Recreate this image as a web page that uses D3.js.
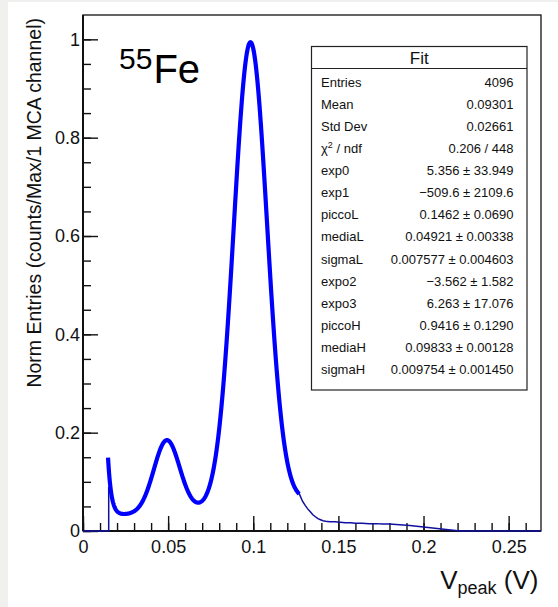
<!DOCTYPE html>
<html>
<head>
<meta charset="utf-8">
<script src="https://cdn.jsdelivr.net/npm/d3@7"></script>
<style>
  html, body { margin: 0; padding: 0; background: #ffffff; }
  svg { display: block; font-family: "Liberation Sans", Arial, Helvetica, sans-serif; }
</style>
</head>
<body>
<svg id="chart" width="558" height="607"></svg>
<script>
// ---- Data -------------------------------------------------------------
const xTicks = [0, 0.05, 0.1, 0.15, 0.2, 0.25];
const xTickLabels = ["0", "0.05", "0.1", "0.15", "0.2", "0.25"];
const yTicks = [0, 0.2, 0.4, 0.6, 0.8, 1];
const yTickLabels = ["0", "0.2", "0.4", "0.6", "0.8", "1"];

// Stats header entries
const statNames = ["Entries", "Mean", "Std Dev"];
const statValues = ["4096", "0.09301", "0.02661"];
const chi2 = 0.206;
const ndf = 448;

// Fit parameters: exp(exp0+exp1*x) + piccoL*gaus(mediaL,sigmaL)
//               + exp(expo2+expo3*x) + piccoH*gaus(mediaH,sigmaH)
const paramNames  = ["exp0", "exp1", "piccoL", "mediaL", "sigmaL", "expo2", "expo3", "piccoH", "mediaH", "sigmaH"];
const paramValues = [5.356, -509.6, 0.1462, 0.04921, 0.007577, -3.562, 6.263, 0.9416, 0.09833, 0.009754];
const paramErrors = [33.949, 2109.6, 0.0690, 0.00338, 0.004603, 1.582, 17.076, 0.1290, 0.00128, 0.001450];
const fitRange = [0.0147, 0.127];

// Normalized histogram outside the fitted range (V, counts/max)
const histX = [0, 0.0151, 0.0151, null,
  0.1262, 0.1275, 0.1290, 0.1305, 0.1320, 0.1335, 0.1350, 0.1365, 0.1380, 0.1395,
  0.1410, 0.1425, 0.1450, 0.1480, 0.1510, 0.1540, 0.1570, 0.1600, 0.1640, 0.1680,
  0.1720, 0.1760, 0.1800, 0.1840, 0.1880, 0.1920, 0.1960, 0.2000, 0.2040, 0.2080,
  0.2120, 0.2160, 0.2190, 0.2205, 0.2690];
const histY = [0, 0, 0.09, null,
  0.083, 0.072, 0.060, 0.052, 0.045, 0.039, 0.033, 0.029, 0.025, 0.023,
  0.021, 0.020, 0.019, 0.019, 0.018, 0.017, 0.017, 0.016, 0.016, 0.015,
  0.015, 0.014, 0.014, 0.013, 0.012, 0.011, 0.0095, 0.008, 0.0065, 0.005,
  0.0035, 0.002, 0.001, 0, 0];

// ---- Layout -----------------------------------------------------------
const svg = d3.select("#chart");
const W = 558, H = 607;
const frame = { left: 83, right: 541, top: 15, bottom: 531 };

svg.append("rect").attr("width", W).attr("height", H).attr("fill", "#ffffff");
// light canvas border strip
svg.append("rect").attr("x", 0).attr("y", 0).attr("width", 8).attr("height", H).attr("fill", "#f0f0ee");
svg.append("rect").attr("x", 0).attr("y", 0).attr("width", W).attr("height", 2).attr("fill", "#f0f0ee");

const x = d3.scaleLinear().domain([0, 0.269]).range([frame.left, frame.right]);
const y = d3.scaleLinear().domain([0, 1.0495]).range([frame.bottom, frame.top]);

// ---- Frame ------------------------------------------------------------
svg.append("rect")
  .attr("x", frame.left).attr("y", frame.top)
  .attr("width", frame.right - frame.left).attr("height", frame.bottom - frame.top)
  .attr("fill", "none").attr("stroke", "#111").attr("stroke-width", 1.3);

// ---- Axes (ROOT style: ticks pointing inward) --------------------------
const xMinor = d3.range(0, 0.2691, 0.01).map(v => +v.toFixed(3));
const yMinor = d3.range(0, 1.0495, 0.05).map(v => +v.toFixed(3));

const xAxisMinor = d3.axisBottom(x).tickValues(xMinor).tickSize(-8).tickFormat("");
const xAxis = d3.axisBottom(x).tickValues(xTicks).tickSize(-15).tickPadding(9)
  .tickFormat((d, i) => xTickLabels[i]);
const yAxisMinor = d3.axisLeft(y).tickValues(yMinor).tickSize(-8).tickFormat("");
const yAxis = d3.axisLeft(y).tickValues(yTicks).tickSize(-15).tickPadding(3)
  .tickFormat((d, i) => yTickLabels[i]);

function styleAxis(g) {
  g.select(".domain").remove();
  g.selectAll(".tick line").attr("stroke", "#111").attr("stroke-width", 1.4);
  g.selectAll(".tick text").attr("fill", "#111").style("font-size", "18px")
    .style("font-family", "'Liberation Sans', Arial, Helvetica, sans-serif");
}

svg.append("g").attr("transform", `translate(0,${frame.bottom})`).call(xAxisMinor).call(styleAxis);
svg.append("g").attr("transform", `translate(0,${frame.bottom})`).call(xAxis).call(styleAxis);
svg.append("g").attr("transform", `translate(${frame.left},0)`).call(yAxisMinor).call(styleAxis);
svg.append("g").attr("transform", `translate(${frame.left},0)`).call(yAxis).call(styleAxis);

// thicker axis lines on the left and bottom
svg.append("line").attr("x1", frame.left).attr("x2", frame.right)
  .attr("y1", frame.bottom).attr("y2", frame.bottom)
  .attr("stroke", "#111").attr("stroke-width", 2);
svg.append("line").attr("x1", frame.left).attr("x2", frame.left)
  .attr("y1", frame.top).attr("y2", frame.bottom)
  .attr("stroke", "#111").attr("stroke-width", 2);

// ---- Histogram (thin) --------------------------------------------------
const histPts = histX.map((v, i) => [v, histY[i]]);
svg.append("path")
  .datum(histPts)
  .attr("fill", "none")
  .attr("stroke", "#1010a0")
  .attr("stroke-width", 1.5)
  .attr("d", d3.line()
    .defined(d => d[0] !== null)
    .x(d => x(d[0])).y(d => y(d[1])));

// ---- Fit function (thick) ----------------------------------------------
const P = Object.fromEntries(paramNames.map((n, i) => [n, paramValues[i]]));
function fitFn(v) {
  const gL = P.piccoL * Math.exp(-0.5 * Math.pow((v - P.mediaL) / P.sigmaL, 2));
  const gH = P.piccoH * Math.exp(-0.5 * Math.pow((v - P.mediaH) / P.sigmaH, 2));
  return Math.exp(P.exp0 + P.exp1 * v) + gL + Math.exp(P.expo2 + P.expo3 * v) + gH;
}
const fitXs = d3.range(fitRange[0], fitRange[1], 0.0002).concat([fitRange[1]]);
svg.append("path")
  .datum(fitXs.map(v => [v, fitFn(v)]))
  .attr("fill", "none")
  .attr("stroke", "#0000ff")
  .attr("stroke-width", 4.2)
  .attr("stroke-linejoin", "round")
  .attr("d", d3.line().x(d => x(d[0])).y(d => y(d[1])));

// ---- Titles -------------------------------------------------------------
svg.append("text")
  .attr("transform", `translate(40.5,18) rotate(-90)`)
  .attr("text-anchor", "end")
  .attr("fill", "#111")
  .style("font-size", "19.5px")
  .text("Norm Entries (counts/Max/1 MCA channel)");

const xTitle = svg.append("text")
  .attr("x", 538.5).attr("y", 588.5)
  .attr("text-anchor", "end")
  .attr("fill", "#111")
  .style("font-size", "26px");
xTitle.append("tspan").text("V");
xTitle.append("tspan").attr("dy", 5).style("font-size", "18px").text("peak");
xTitle.append("tspan").attr("dy", -5).text(" (V)");

const iso = svg.append("text").attr("x", 119).attr("y", 83.3).attr("fill", "#000");
iso.append("tspan").attr("y", 69.3).style("font-size", "30px").text("55");
iso.append("tspan").attr("y", 83.3).attr("dx", 1).style("font-size", "40px").text("Fe");

// ---- Stats box -----------------------------------------------------------
const box = { x0: 311.5, x1: 527, y0: 46.5, yHead: 68.5, y1: 390 };
svg.append("rect")
  .attr("x", box.x0).attr("y", box.y0)
  .attr("width", box.x1 - box.x0).attr("height", box.y1 - box.y0)
  .attr("fill", "#ffffff").attr("stroke", "#222").attr("stroke-width", 1.2);
svg.append("line")
  .attr("x1", box.x0).attr("x2", box.x1).attr("y1", box.yHead).attr("y2", box.yHead)
  .attr("stroke", "#222").attr("stroke-width", 1.2);
svg.append("text")
  .attr("x", (box.x0 + box.x1) / 2).attr("y", 64)
  .attr("text-anchor", "middle").attr("fill", "#111")
  .style("font-size", "17px").text("Fit");

const fmt4 = d3.format(".4r");
function decimals(s) { const k = s.indexOf("."); return k < 0 ? 0 : s.length - k - 1; }

const rows = statNames.map((n, i) => ({ name: n, value: statValues[i] }));
rows.push({ name: "chi2", value: `${chi2} / ${ndf}` });
paramNames.forEach((n, i) => {
  const vs = fmt4(paramValues[i]);
  rows.push({ name: n, value: `${vs} ± ${paramErrors[i].toFixed(decimals(vs))}` });
});

const rowY0 = 86.7, rowStep = 22.1;
rows.forEach((r, i) => {
  const yy = rowY0 + rowStep * i;
  const lab = svg.append("text").attr("x", 321).attr("y", yy)
    .attr("fill", "#111").style("font-size", "13px");
  if (r.name === "chi2") {
    lab.append("tspan").text("χ");
    lab.append("tspan").attr("dy", -5).style("font-size", "9px").text("2");
    lab.append("tspan").attr("dy", 5).text(" / ndf");
  } else {
    lab.text(r.name);
  }
  svg.append("text").attr("x", 513.5).attr("y", yy)
    .attr("text-anchor", "end").attr("fill", "#111")
    .style("font-size", "13px").text(r.value);
});
</script>
</body>
</html>
